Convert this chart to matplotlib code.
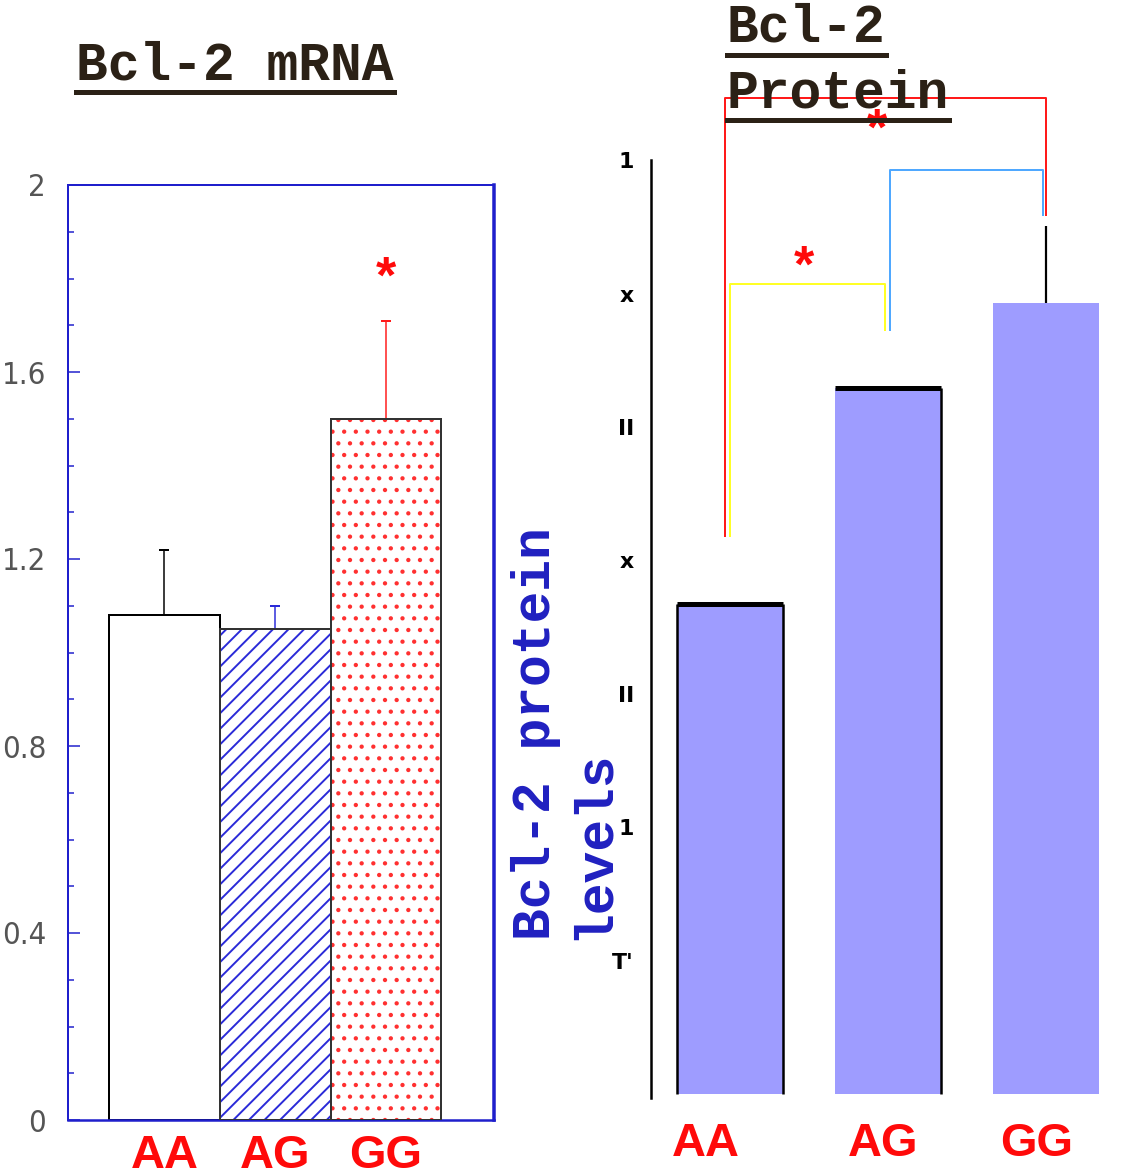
import numpy as np
import matplotlib
matplotlib.use("Agg")
import matplotlib.pyplot as plt
from matplotlib.lines import Line2D
from matplotlib.ticker import MultipleLocator

DPI = 140
W, H = 1122, 1173


def pt(px):
    # pixel size -> points at this dpi
    return px * 72 / DPI


def px_rect(x0, y0, x1, y1):
    return [x0 / W, 1 - y1 / H, (x1 - x0) / W, (y1 - y0) / H]


# data
genotypes = ["AA", "AG", "GG"]
mrna_values = [1.08, 1.05, 1.50]
mrna_err_top = [1.22, 1.10, 1.71]
mrna_star_y = 1.77

protein_values = [3.67, 5.29, 5.93]
protein_err_top = [None, None, 6.51]
protein_tick_pos = [1, 2, 3, 4, 5, 6, 7]
protein_tick_labels = ["T'", "1", "II", "x", "II", "x", "1"]

# significance brackets: groups joined, top height, foot heights
bracket_groups = [(0, 2), (0, 1), (1, 2)]
bracket_tops = [7.47, 6.07, 6.93]
bracket_left_feet = [4.18, 4.18, 5.73]
bracket_right_feet = [6.59, 5.73, 6.59]
protein_star_x = [0.47, 0.93]
protein_star_y = [6.09, 7.12]

BLUE = "#1f1fcc"
RED = "#ff0a0a"
TITLE_C = "#2b2116"
PURPLE = "#9e9cff"

fig = plt.figure(figsize=(W / DPI, H / DPI), dpi=DPI)

# ---------------- left panel: mRNA ----------------
ax1 = fig.add_axes(px_rect(68, 185, 494, 1120))
x = np.arange(len(genotypes))

ax1.bar(x[0], mrna_values[0], width=1.0, color="white", edgecolor="black", lw=pt(2), zorder=2)
ax1.bar(x[1], mrna_values[1], width=1.0, color="white", edgecolor="#2a2ad8", hatch="///", lw=0, zorder=2)
ax1.bar(x[1], mrna_values[1], width=1.0, fill=False, edgecolor="#333333", lw=pt(2), zorder=3)
ax1.bar(x[2], mrna_values[2], width=1.0, color="white", edgecolor="#ff3030", hatch="..", lw=0, zorder=2)
ax1.bar(x[2], mrna_values[2], width=1.0, fill=False, edgecolor="#333333", lw=pt(2), zorder=3)

err_colors = ["black", "#2a2ad8", "#ff1a1a"]
for i in range(3):
    ax1.errorbar(x[i], mrna_values[i], yerr=[[0], [mrna_err_top[i] - mrna_values[i]]],
                 color=err_colors[i], capsize=pt(5), elinewidth=pt(1.5), capthick=pt(2), zorder=1)

ax1.text(x[2], mrna_star_y, "*", color=RED, fontsize=pt(52), fontweight="bold",
         family="Liberation Sans", ha="center", va="baseline")

ax1.set_xlim(-0.871, 2.975)
ax1.set_ylim(0, 2)
for side, w in [("left", 2), ("top", 2), ("right", 3.5), ("bottom", 2.5)]:
    ax1.spines[side].set_color(BLUE)
    ax1.spines[side].set_linewidth(pt(w))

ax1.set_yticks(np.arange(0, 2.01, 0.4))
ax1.set_yticklabels(["0", "0.4", "0.8", "1.2", "1.6", "2"], family="DejaVu Sans",
                    fontstretch="condensed", fontweight="light")
ax1.yaxis.set_minor_locator(MultipleLocator(0.1))
ax1.tick_params(axis="y", which="major", direction="in", length=pt(12), width=pt(1.5),
                color=BLUE, labelcolor="#555555", labelsize=pt(31), pad=pt(22))
ax1.tick_params(axis="y", which="minor", direction="in", length=pt(6), width=pt(1.5), color=BLUE)
ax1.set_xticks(x)
ax1.set_xticklabels(genotypes, fontsize=pt(47), fontweight="bold", color=RED, family="Liberation Sans")
ax1.tick_params(axis="x", length=0, pad=pt(14))

# ---------------- right panel: protein ----------------
ax2 = fig.add_axes(px_rect(651, 93, 1110, 1098))
ax2.patch.set_alpha(0)
bar_w = 0.67
ax2.bar(x, protein_values, width=bar_w, color=PURPLE, lw=0, zorder=2)

# partial black outlines as in the original
edge_sides = {0: ["left", "right", "top"], 1: ["right", "top"]}
for i, sides in edge_sides.items():
    xl, xr = x[i] - bar_w / 2, x[i] + bar_w / 2
    if "left" in sides:
        ax2.vlines(xl, 0, protein_values[i], color="black", lw=pt(2.5), zorder=3)
    if "right" in sides:
        ax2.vlines(xr, 0, protein_values[i], color="black", lw=pt(2.5), zorder=3)
    if "top" in sides:
        ax2.hlines(protein_values[i], xl, xr, color="black", lw=pt(5), zorder=3)

for i, top in enumerate(protein_err_top):
    if top is not None:
        ax2.vlines(x[i], protein_values[i], top, color="black", lw=pt(2.2), zorder=1)

bracket_colors = ["#ff1a1a", "#ffff26", "#4fa8ff"]
bracket_shift = [(-0.03, 0.0), (0.0, -0.02), (0.01, -0.02)]
for (a, b), top, lf, rf, c, (sa, sb) in zip(bracket_groups, bracket_tops, bracket_left_feet,
                                            bracket_right_feet, bracket_colors, bracket_shift):
    xa, xb = x[a] + sa, x[b] + sb
    ax2.plot([xa, xa, xb, xb], [lf, top, top, rf], color=c, lw=pt(2), clip_on=False, zorder=4)

for sx, sy in zip(protein_star_x, protein_star_y):
    ax2.text(sx, sy, "*", color=RED, fontsize=pt(52), fontweight="bold",
             family="Liberation Sans", ha="center", va="baseline", clip_on=False, zorder=5)

ax2.set_xlim(-0.5, 2.405)
ax2.set_ylim(-0.03, 7.504)
for side in ["top", "right", "bottom"]:
    ax2.spines[side].set_visible(False)
ax2.spines["left"].set_linewidth(pt(2.5))
ax2.spines["left"].set_bounds(-0.03, 7)

ax2.set_yticks(protein_tick_pos)
ax2.set_yticklabels(protein_tick_labels, fontweight="bold", family="DejaVu Sans")
ax2.tick_params(axis="y", which="major", length=0, labelsize=pt(22), pad=pt(17))
ax2.set_yticks([2, 6, 7], minor=True)
ax2.tick_params(axis="y", which="minor", length=pt(3), width=pt(2), direction="out")

label_shift = [-0.15, -0.03, -0.06]
ax2.set_xticks(x + np.array(label_shift))
ax2.set_xticklabels(genotypes, fontsize=pt(47), fontweight="bold", color=RED, family="Liberation Sans")
ax2.tick_params(axis="x", length=0, pad=pt(24))

fig.text(565 / W, 1 - 940 / H, "Bcl-2 protein\nlevels", rotation=90, ha="center", va="bottom",
         multialignment="left", family="Liberation Mono", fontweight="bold", color="#2020c0",
         fontsize=pt(53), linespacing=1.2)

# ---------------- underlined titles ----------------
titles = [("Bcl-2 mRNA", 76, 80, 92), ("Bcl-2", 727, 42, 55), ("Protein", 727, 107, 120)]
title_artists = []
for txt, tx, base, ul in titles:
    t = fig.text(tx / W, 1 - base / H, txt, ha="left", va="baseline", family="Liberation Mono",
                 fontweight="bold", color=TITLE_C, fontsize=pt(53))
    title_artists.append((t, ul))

fig.canvas.draw()
for t, ul in title_artists:
    bb = t.get_window_extent()
    fig.add_artist(Line2D([bb.x0 / W, bb.x1 / W], [1 - ul / H, 1 - ul / H],
                          transform=fig.transFigure, color=TITLE_C, lw=pt(5)))

fig.savefig("out.png", dpi=DPI)
